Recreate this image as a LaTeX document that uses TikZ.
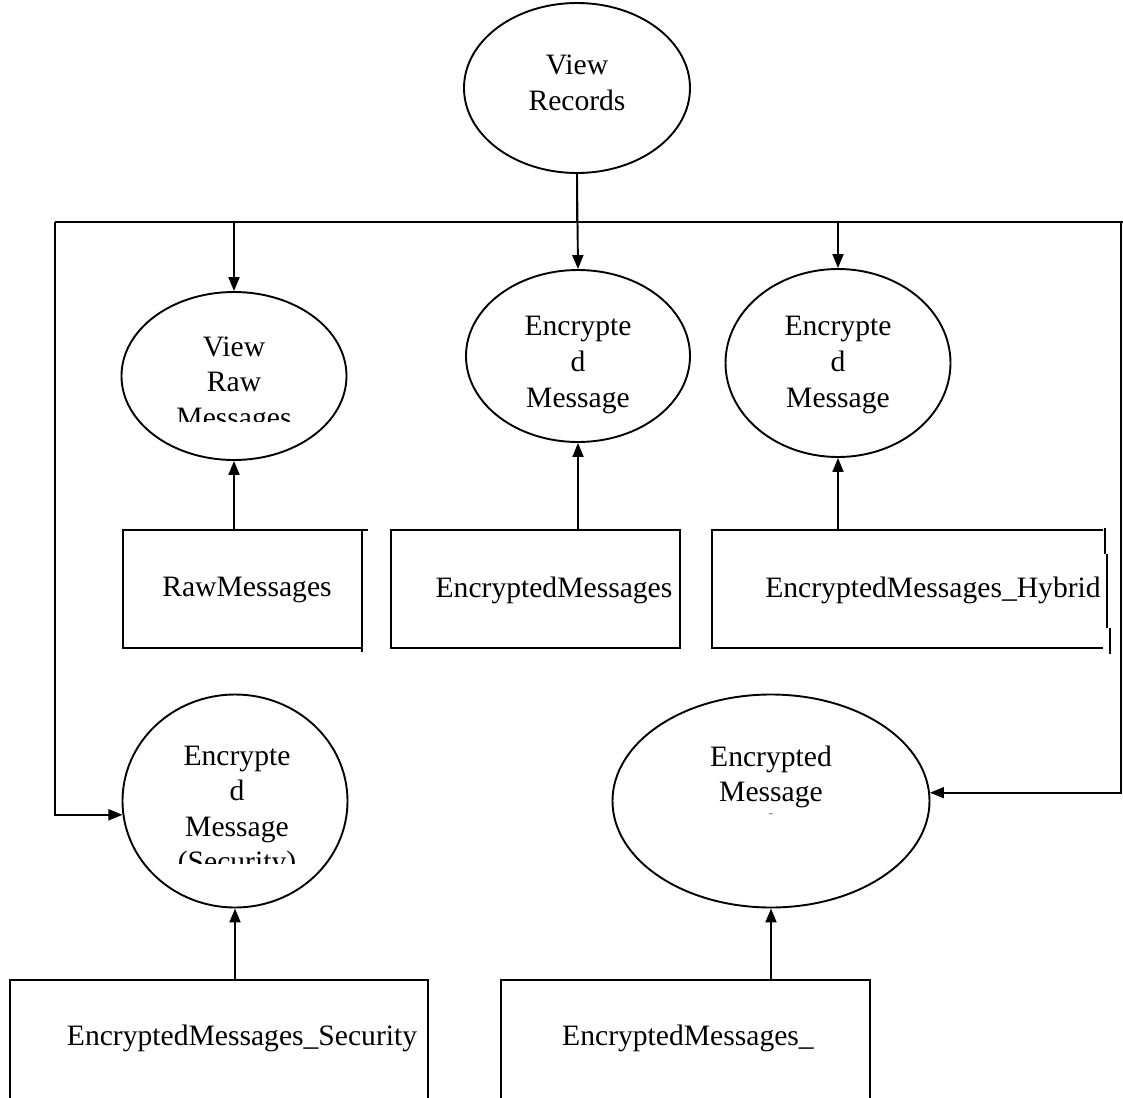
\documentclass[tikz,border=0pt]{standalone}
\usepackage{fontspec}
\setmainfont{Liberation Serif}
\usetikzlibrary{arrows.meta,shapes.geometric}

\tikzset{
  x=0.5pt, y=-0.5pt,
  proc/.style={ellipse, draw, line width=0.95pt, inner sep=0pt},
  store/.style={rectangle, draw, line width=0.95pt, inner sep=0pt},
  openstore/.style={rectangle, inner sep=0pt},
  edge/.style={line width=0.95pt},
  lbl/.style={align=center, inner sep=0pt, font=\fontsize{14.8}{17.8}\selectfont},
  flow/.style={line width=0.95pt, -{Triangle[length=7pt,width=5.5pt]}},
  bus/.style={line width=0.95pt},
}

\begin{document}
\begin{tikzpicture}
  \useasboundingbox[fill=white] (0,0) rectangle (1123,1097);

  % processes
  \node[proc, minimum width=113pt, minimum height=85pt] (vr) at (577,88) {};
  \node[proc, minimum width=112.5pt, minimum height=84pt] (rawE) at (234,376) {};
  \node[proc, minimum width=112pt, minimum height=86pt] (encE) at (578,356) {};
  \node[proc, minimum width=112.5pt, minimum height=94pt] (hybE) at (838,363) {};
  \node[proc, minimum width=112.5pt, minimum height=106.5pt] (secE) at (235,801) {};
  \node[proc, minimum width=158.5pt, minimum height=106.5pt] (genE) at (771,801) {};

  % process labels
  \node[lbl] (vrT) at (577,83) {View\\Records};
  \begin{scope}
    \clip (100,300) rectangle (370,421);
    \node[lbl] (rawT) at (234,385) {View\\Raw\\Messages};
  \end{scope}
  \node[lbl] (encT) at (578,365) {Encrypte\\d\\Message};
  \node[lbl] (hybT) at (838,365) {Encrypte\\d\\Message};
  \begin{scope}
    \clip (100,720) rectangle (370,863);
    \node[lbl] (secT) at (237,812) {Encrypte\\d\\Message\\(Security)};
  \end{scope}
  \node[lbl] (genT) at (771,777) {Encrypted\\Message};
  \node[inner sep=0pt, text=gray, font=\fontsize{7}{8}\selectfont] (genM) at (771,816) {-};

  % data stores
  \node[openstore, minimum width=119.5pt, minimum height=59pt] (rawB) at (242.5,589) {};
  \node[store, minimum width=144.5pt, minimum height=59pt] (encB) at (535.5,589) {};
  \node[openstore, minimum width=197.5pt, minimum height=59pt] (hybB) at (909.5,589) {};
  \node[store, minimum width=209pt, minimum height=62.5pt] (secB) at (219,1042.5) {};
  \node[store, minimum width=184.5pt, minimum height=62.5pt] (genB) at (685.5,1042.5) {};

  % store outlines with their overrunning right edges
  \draw[edge] ([xshift=3pt]rawB.north east) -- (rawB.north west) -- (rawB.south west) -- (rawB.south east);
  \draw[edge] (rawB.north east) -- ([yshift=-2pt]rawB.south east);
  \draw[edge] ([xshift=-2pt]hybB.north east) -- (hybB.north west) -- (hybB.south west) -- ([xshift=-2pt]hybB.south east);
  \draw[edge] ([xshift=-1pt,yshift=1pt]hybB.north east) -- ([xshift=-1pt,yshift=-12pt]hybB.north east);
  \draw[edge] ([yshift=-12pt]hybB.north east) -- ([yshift=10pt]hybB.south east);
  \draw[edge] ([xshift=1.2pt,yshift=10pt]hybB.south east) -- ([xshift=1.2pt,yshift=-3pt]hybB.south east);

  \node[lbl] (rawL) at (247,590) {RawMessages};
  \node[lbl] (encL) at (554,590) {EncryptedMessages};
  \node[lbl] (hybL) at (933,590) {EncryptedMessages\_Hybrid};
  \node[lbl] (secL) at (242,1038) {EncryptedMessages\_Security};
  \node[lbl] (genL) at (688,1038) {EncryptedMessages\_};

  % distribution bus
  \coordinate (busL) at (55,222);
  \coordinate (busR) at (1121,222);
  \coordinate (busEnd) at (1123,222);
  \draw[bus] (busL) -- (busEnd);
  \draw[bus] (vr.south) -- (vr.south |- busL);

  \draw[flow] (rawE.north |- busL) -- (rawE.north);
  \draw[flow] (vr.south) -- (encE.north);
  \draw[flow] (hybE.north |- busL) -- (hybE.north);
  \draw[flow] (busL) |- (secE.187);
  \draw[flow] (busR) |- (genE.3);

  % stores feeding processes
  \draw[flow] (rawB.north -| rawE.south) -- (rawE.south);
  \draw[flow] (encB.north -| encE.south) -- (encE.south);
  \draw[flow] (hybB.north -| hybE.south) -- (hybE.south);
  \draw[flow] (secB.north -| secE.south) -- (secE.south);
  \draw[flow] (genB.north -| genE.south) -- (genE.south);
\end{tikzpicture}
\end{document}
